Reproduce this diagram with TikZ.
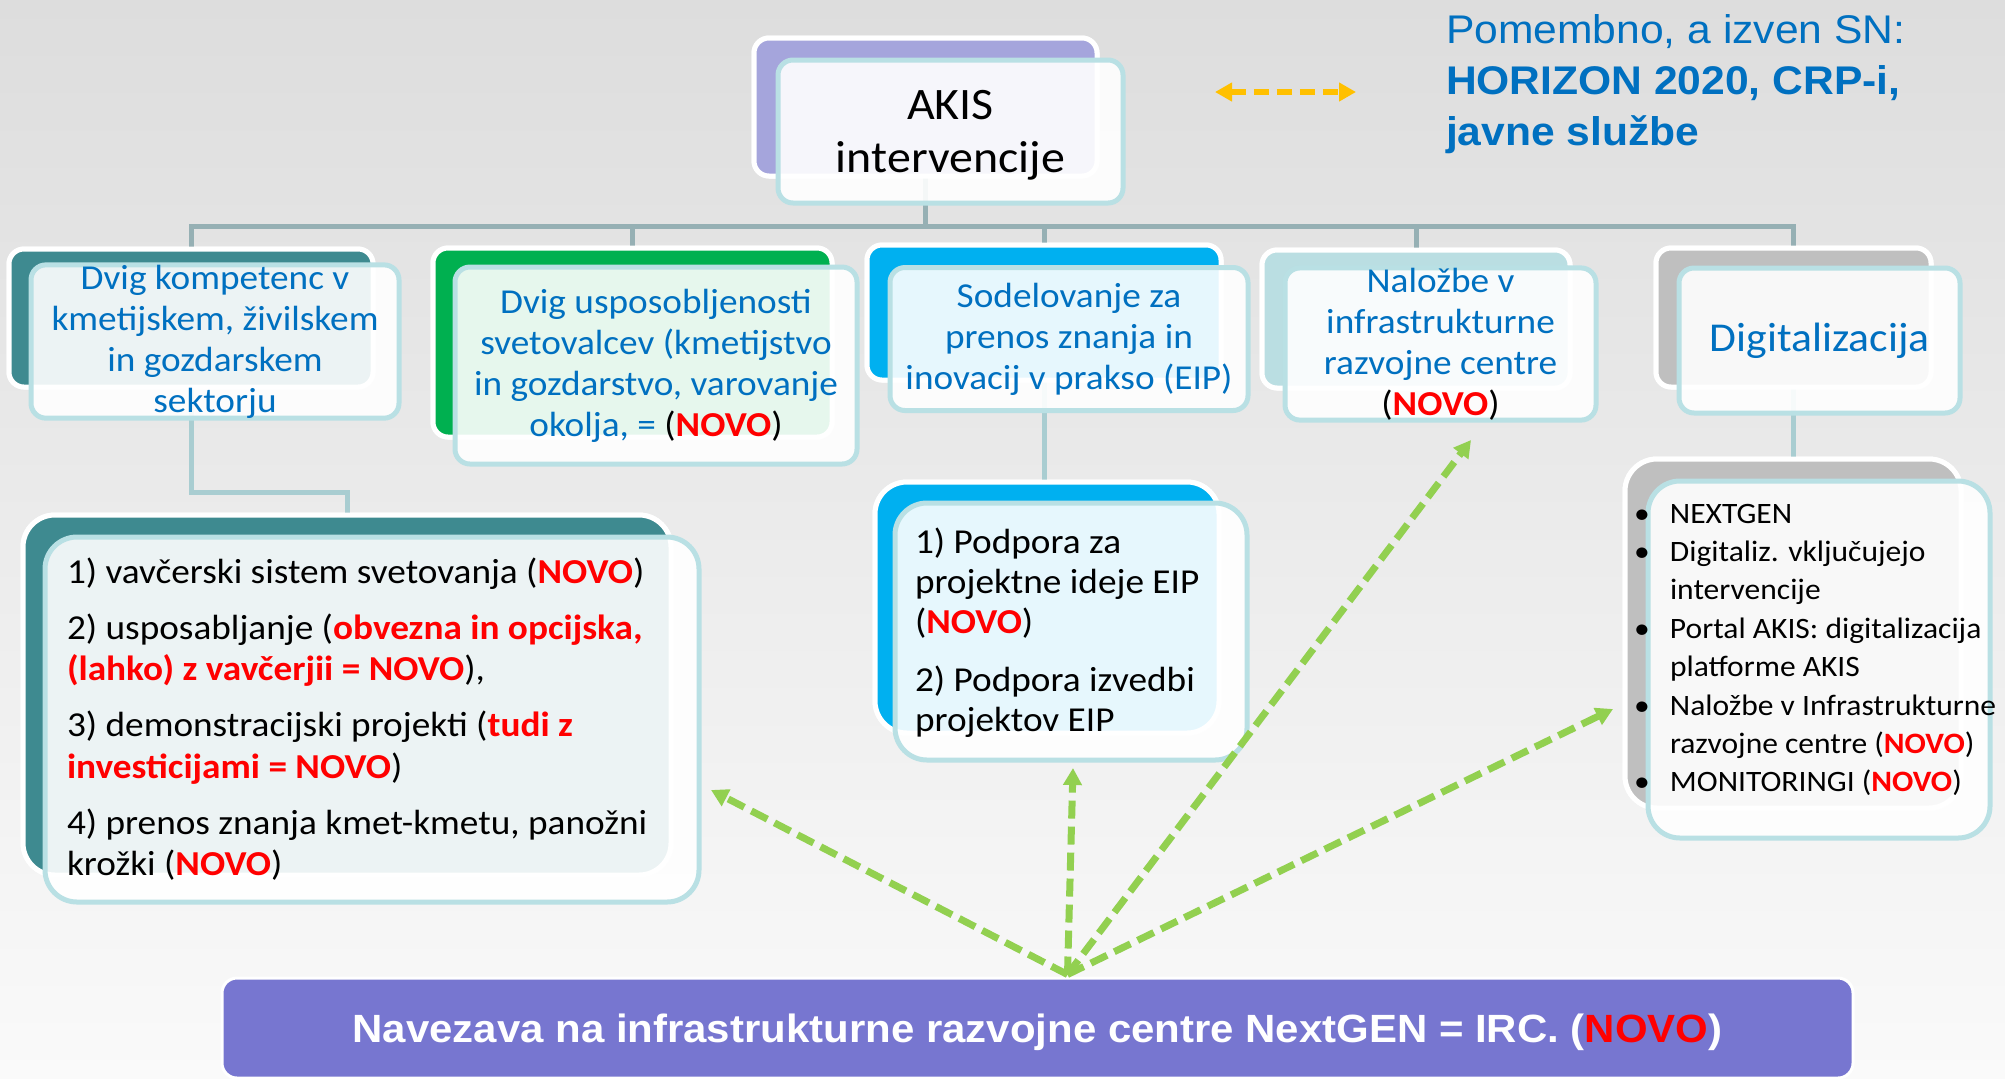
\documentclass[tikz,border=0pt]{standalone}
\usepackage{fontspec}
\setmainfont{Carlito}[FakeStretch=1.065]
\newfontfamily\arialf{Liberation Sans}[FakeStretch=1.065]
\usetikzlibrary{arrows.meta,calc}
\definecolor{bgtop}{HTML}{DDDDDD}
\definecolor{bgbot}{HTML}{FAFAFA}
\definecolor{txtblue}{HTML}{0070C0}
\definecolor{novored}{HTML}{FF0000}
\definecolor{frontline}{HTML}{B9E0E4}
\definecolor{akisback}{HTML}{A5A5DC}
\definecolor{tealback}{HTML}{3E8A90}
\definecolor{greenback}{HTML}{00B050}
\definecolor{blueback}{HTML}{00B0F0}
\definecolor{ltealback}{HTML}{BADEE2}
\definecolor{grayback}{HTML}{BFBFBF}
\definecolor{barcol}{HTML}{7776D0}
\definecolor{treeline}{HTML}{96B0B4}
\definecolor{treelineb}{HTML}{A9CDD1}
\definecolor{arrgreen}{HTML}{92D050}
\definecolor{arryellow}{HTML}{FFC000}
\newcommand\NOVOtxt{\textcolor{novored}{\textbf{NOVO}}}
\newcommand\bNOVO{{\color{black}(}\NOVOtxt{\color{black})}}
\newcommand\redb[1]{\textcolor{novored}{\textbf{#1}}}
\begin{document}
\begin{tikzpicture}[x=0.5pt,y=-0.5pt,
  backbox/.style={draw=white, line width=2.5pt, rounded corners=7.5pt, inner sep=0pt, outer sep=0pt},
  frontbox/.style={draw=frontline, line width=2.5pt, fill=white, fill opacity=0.9, draw opacity=1, text opacity=1, rounded corners=7.5pt, inner sep=0pt, outer sep=0pt, align=center, text=txtblue, font=\fontsize{17.5}{20.5}\selectfont},
  listback/.style={backbox, rounded corners=16pt},
  listfront/.style={frontbox, rounded corners=16pt},
  tree/.style={draw=treeline, line width=2.5pt},
  treeb/.style={draw=treelineb, line width=2.5pt},
  garrow/.style={draw=arrgreen, line width=3.5pt, dash pattern=on 9pt off 4pt, -{Triangle[length=8.5pt,width=9pt]}},
  yarrow/.style={draw=arryellow, line width=3.3pt, dash pattern=on 7.5pt off 4pt, {Triangle[length=8.5pt,width=9pt]}-{Triangle[length=8.5pt,width=9pt]}},
  listtext/.style={anchor=base west, inner sep=0pt, outer sep=0pt, text=black},
  plaintext/.style={inner sep=0pt, outer sep=0pt, align=center},
]
\useasboundingbox (0,0) rectangle (2005,1078);
\shade[top color=bgtop, bottom color=bgbot] (0,0) rectangle (2005,1078);

% tree connectors (drawn first, behind the boxes)
\path (925.5,107) coordinate (akisC) (191,318) coordinate (b1C) (632.5,342.5) coordinate (b2C)
      (1044,312.5) coordinate (b3C) (1416,319) coordinate (b4C) (1793.5,317.5) coordinate (b5C);

% back boxes
\node[backbox, fill=akisback, minimum width=171.5pt, minimum height=69pt] (akisB) at (akisC) {};
\node[backbox, fill=tealback, minimum width=182pt, minimum height=69pt] (b1B) at (b1C) {};
\node[backbox, fill=greenback, minimum width=199.5pt, minimum height=94.5pt] (b2B) at (b2C) {};
\node[backbox, fill=blueback, minimum width=177pt, minimum height=67.5pt] (b3B) at (b3C) {};
\node[backbox, fill=ltealback, minimum width=154pt, minimum height=69pt] (b4B) at (b4C) {};
\node[backbox, fill=grayback, minimum width=137.5pt, minimum height=69.5pt] (b5B) at (b5C) {};
\node[listback, fill=tealback, minimum width=324pt, minimum height=180pt] (l1B) at (347,695) {};
\node[listback, fill=blueback, minimum width=172pt, minimum height=125.5pt] (eipB) at (1047,607.5) {};
\node[listback, fill=grayback, minimum width=168pt, minimum height=174.5pt] (digB) at (1793,633.5) {};

\coordinate (hub) at (926,226);
\coordinate (l1knee) at (0,492);
\draw[tree] (akisB.south) -- (akisB.south |- hub);
\draw[tree] (b1B.north) |- (hub) -| (b5B.north);
\draw[tree] (b2B.north) -- (b2B.north |- hub);
\draw[tree] (b3B.north) -- (b3B.north |- hub);
\draw[tree] (b4B.north) -- (b4B.north |- hub);
\draw[treeb] (b1B.south) -- (b1B.south |- l1knee) -| (l1B.north);
\draw[treeb] (b3B.south) -- (b3B.south |- eipB.north);
\draw[treeb] (b5B.south) -- (b5B.south |- digB.north);

% back boxes again, over the connector ends
\node[backbox, fill=akisback, minimum width=171.5pt, minimum height=69pt] at (akisC) {};
\node[backbox, fill=tealback, minimum width=182pt, minimum height=69pt] at (b1C) {};
\node[backbox, fill=greenback, minimum width=199.5pt, minimum height=94.5pt] at (b2C) {};
\node[backbox, fill=blueback, minimum width=177pt, minimum height=67.5pt] at (b3C) {};
\node[backbox, fill=ltealback, minimum width=154pt, minimum height=69pt] at (b4C) {};
\node[backbox, fill=grayback, minimum width=137.5pt, minimum height=69.5pt] at (b5C) {};
\node[listback, fill=tealback, minimum width=324pt, minimum height=180pt] at (l1B) {};
\node[listback, fill=blueback, minimum width=172pt, minimum height=125.5pt] at (eipB) {};
\node[listback, fill=grayback, minimum width=168pt, minimum height=174.5pt] at (digB) {};

% front boxes
\node[frontbox, minimum width=172.5pt, minimum height=71.5pt] (akisF) at (950.5,131.5) {};
\node[plaintext, text=black, font=\fontsize{22.5}{26.5}\selectfont] (akisT) at ($(akisF.center)+(0,4)$) {AKIS\\intervencije};
\node[frontbox, minimum width=184pt, minimum height=73.5pt] (b1F) at (215,341.5) {Dvig kompetenc v\\kmetijskem, živilskem\\in gozdarskem\\sektorju};
\node[frontbox, minimum width=201pt, minimum height=98.5pt] (b2F) at (656,365.5) {Dvig usposobljenosti\\svetovalcev (kmetijstvo\\in gozdarstvo, varovanje\\okolja, = \bNOVO};
\node[frontbox, minimum width=179pt, minimum height=71.5pt] (b3F) at (1069,339) {Sodelovanje za\\prenos znanja in\\inovacij v prakso (EIP)};
\node[frontbox, minimum width=155.5pt, minimum height=72pt] (b4F) at (1440.5,344) {Naložbe v\\infrastrukturne\\razvojne centre\\\bNOVO};
\node[frontbox, minimum width=140.5pt, minimum height=72.5pt, font=\fontsize{20.5}{25}\selectfont] (b5F) at (1819.5,340.5) {Digitalizacija};
\node[listfront, minimum width=327pt, minimum height=182.5pt] (l1F) at (372,719.5) {};
\node[listfront, minimum width=176pt, minimum height=128.5pt] (eipF) at (1071,631.5) {};
\node[listfront, minimum width=171pt, minimum height=178.5pt] (digF) at (1819,659.5) {};

% list texts
\node[listtext, font=\fontsize{17.5}{20.75}\selectfont] (l1T) at (67,583) {\begin{tabular}[t]{@{}l@{}}
1) vavčerski sistem svetovanja (\NOVOtxt)\\[7.25pt]
2) usposabljanje (\redb{obvezna in opcijska,}\\
\redb{(lahko) z vavčerjii = NOVO}),\\[7.25pt]
3) demonstracijski projekti (\redb{tudi z}\\
\redb{investicijami = NOVO})\\[7.25pt]
4) prenos znanja kmet-kmetu, panožni\\
krožki (\NOVOtxt)
\end{tabular}};
\node[listtext, font=\fontsize{17.5}{20}\selectfont] (eipT) at (915,553) {\begin{tabular}[t]{@{}l@{}}
1) Podpora za\\
projektne ideje EIP\\
(\NOVOtxt)\\[9pt]
2) Podpora izvedbi\\
projektov EIP
\end{tabular}};
\node[listtext, font=\fontsize{14.8}{19.2}\selectfont] (digT) at (1634,523) {\begin{tabular}[t]{@{}l@{}l@{}}
\makebox[18pt][l]{\textbullet} & NEXTGEN\\
\textbullet & Digitaliz. vključujejo\\
 & intervencije\\
\textbullet & Portal AKIS: digitalizacija\\
 & platforme AKIS\\
\textbullet & Naložbe v Infrastrukturne\\
 & razvojne centre (\NOVOtxt)\\
\textbullet & MONITORINGI (\NOVOtxt)
\end{tabular}};

% top right note
\node[listtext, text=txtblue, font=\arialf\fontsize{20}{25.5}\selectfont] (note) at (1446,43) {\begin{tabular}[t]{@{}l@{}}
Pomembno, a izven SN:\\
\textbf{HORIZON 2020, CRP-i,}\\
\textbf{javne službe}
\end{tabular}};
\coordinate (ya) at (1215,92);
\coordinate (yb) at (1356,92);
\draw[yarrow] (ya) -- (yb);

% bottom bar
\node[draw=white, line width=1.5pt, fill=barcol, rounded corners=7.5pt, minimum width=815.5pt, minimum height=50pt, inner sep=0pt] (bar) at (1037.5,1028) {};
\node[plaintext, text=white, font=\arialf\bfseries\fontsize{19.7}{23}\selectfont] (barT) at ($(bar.center)+(0,4)$) {Navezava na infrastrukturne razvojne centre NextGEN = IRC. (\textcolor{novored}{NOVO})};

% green arrows
\coordinate (src) at ($(bar.north)+(30,-2)$);
\coordinate (t1) at (711,790);
\coordinate (t2) at (1073,768);
\coordinate (t3) at (1471,440);
\coordinate (t4) at (1613,709);
\draw[garrow] (src) -- (t1);
\draw[garrow] (src) -- (t2);
\draw[garrow] (src) -- (t3);
\draw[garrow] (src) -- (t4);
\end{tikzpicture}
\end{document}
